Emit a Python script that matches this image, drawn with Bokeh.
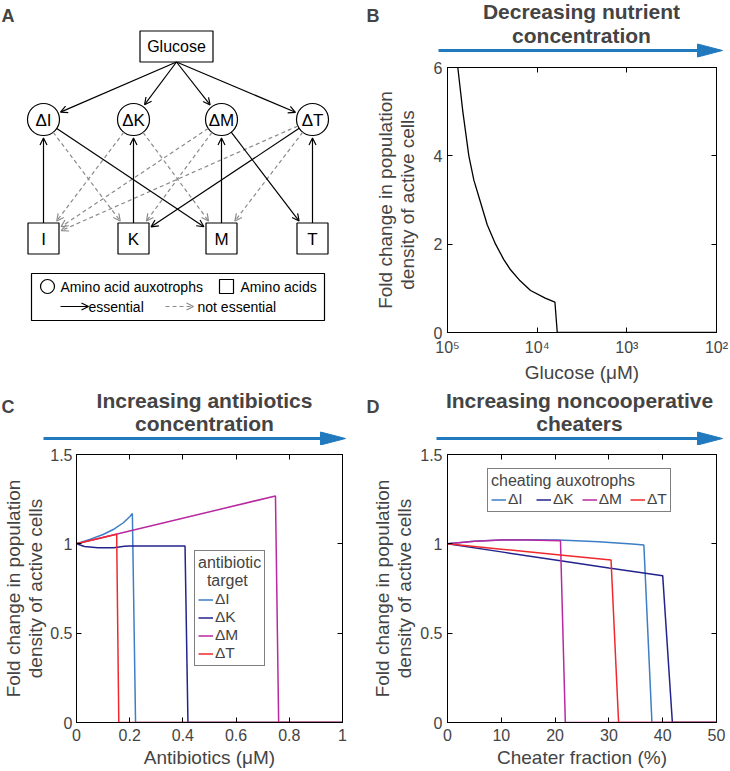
import math
from bokeh.plotting import figure
from bokeh.models import (Range1d, LinearAxis, LogAxis, FixedTicker, CustomJSTickFormatter,
                          Arrow, OpenHead, Label, Legend, LegendItem, ColumnDataSource, PolyAnnotation)
from bokeh.layouts import row, column
from bokeh.embed import file_html
from bokeh.resources import INLINE
from bokeh.core.properties import value

FONT = "Liberation Sans"

# ---------------- data ----------------
# Panel B: nutrient limitation
glucose_uM = [76740, 67450, 57810, 50820, 42850, 36060, 29110, 23550, 19820, 15490, 11860, 8130, 6340, 5970, 100]
fold_glucose = [6.0, 5.0, 4.0, 3.45, 2.95, 2.44, 2.0, 1.65, 1.42, 1.17, 0.95, 0.78, 0.69, 0.0, 0.0]
glucose_ticks = [1e5, 1e4, 1e3, 1e2]
fold_ticks_B = [0, 2, 4, 6]

# Panel C: antibiotics
auxotrophs = ["ΔI", "ΔK", "ΔM", "ΔT"]
antibiotic_I_x = [0, 0.05, 0.10, 0.138, 0.176, 0.20, 0.21, 0.222, 1.0]
antibiotic_I_y = [1.0, 1.025, 1.052, 1.08, 1.118, 1.152, 1.17, 0.0, 0.0]
antibiotic_K_x = [0, 0.03, 0.08, 0.14, 0.18, 0.20, 0.408, 0.419, 1.0]
antibiotic_K_y = [1.0, 0.985, 0.978, 0.978, 0.986, 0.988, 0.988, 0.0, 0.0]
antibiotic_M_x = [0, 0.748, 0.76, 1.0]
antibiotic_M_y = [1.0, 1.268, 0.0, 0.0]
antibiotic_T_x = [0, 0.151, 0.159, 1.0]
antibiotic_T_y = [1.0, 1.054, 0.0, 0.0]
antibiotic_ticks = [0, 0.2, 0.4, 0.6, 0.8, 1]
fold_ticks_CD = [0, 0.5, 1, 1.5]

# Panel D: cheaters
cheater_I_x = [0, 5, 9.7, 15, 20.7, 28.1, 34.3, 36.5, 38.0, 50]
cheater_I_y = [1.0, 1.015, 1.022, 1.023, 1.021, 1.012, 0.999, 0.993, 0.0, 0.0]
cheater_K_x = [0, 10, 21, 30, 40.0, 41.8, 50]
cheater_K_y = [1.0, 0.955, 0.905, 0.865, 0.822, 0.0, 0.0]
cheater_M_x = [0, 5, 10, 15, 21.0, 21.9, 50]
cheater_M_y = [1.0, 1.015, 1.022, 1.022, 1.017, 0.0, 0.0]
cheater_T_x = [0, 10, 20, 30.4, 31.8, 50]
cheater_T_y = [1.0, 0.97, 0.94, 0.909, 0.0, 0.0]
cheater_ticks = [0, 10, 20, 30, 40, 50]

# Panel A: network
amino_acids = ["I", "K", "M", "T"]
essential_edges = [("Glucose", "ΔI"), ("Glucose", "ΔK"), ("Glucose", "ΔM"), ("Glucose", "ΔT"),
                   ("I", "ΔI"), ("K", "ΔK"), ("M", "ΔM"), ("T", "ΔT"),
                   ("ΔI", "M"), ("ΔM", "T"), ("ΔT", "K")]
nonessential_edges = [("ΔI", "K"), ("ΔK", "I"), ("ΔK", "M"), ("ΔM", "I"), ("ΔM", "K"),
                      ("ΔT", "I"), ("ΔT", "M")]

COLORS = ["#3d7ec4", "#23238e", "#b8289f", "#f0282d"]
ARROW_BLUE = "#2179be"
GRAY = "#8a8a8a"

COL_W = 365
TOP_H = 385
BOT_H = 386
HEAD_B_H = 58
HEAD_CD_H = 60


def blank(width, height):
    f = figure(width=width, height=height, x_range=Range1d(0, width), y_range=Range1d(height, 0),
               x_axis_location=None, y_axis_location=None, min_border=0,
               output_backend="svg", toolbar_location=None)
    f.grid.visible = False
    f.outline_line_color = None
    return f


def header(height, letter, letter_y, lines, title_x, title_ys, ax0, ax1, ay):
    # data units = pixels from the header's top-left corner
    h = blank(COL_W, height)
    h.add_layout(Label(x=1, y=letter_y, text=letter, text_font=FONT, text_font_size="18px",
                       text_font_style="bold", text_baseline="middle"))
    for t, y in zip(lines, title_ys):
        h.add_layout(Label(x=title_x, y=y, text=t, text_font=FONT, text_font_size="21px",
                           text_font_style="bold", text_align="center", text_baseline="middle"))
    head_len, head_half = 25, 6.5
    h.add_layout(Arrow(end=None, x_start=ax0, y_start=ay, x_end=ax1 - head_len + 2, y_end=ay,
                       line_color=ARROW_BLUE, line_width=3))
    h.add_layout(PolyAnnotation(xs=[ax1 - head_len, ax1, ax1 - head_len],
                                ys=[ay - head_half, ay, ay + head_half],
                                fill_color=ARROW_BLUE, fill_alpha=1, line_color=ARROW_BLUE, line_alpha=1))
    return h


def fmt():
    return CustomJSTickFormatter(code="return String(Math.round(tick*1000)/1000);")


def log_fmt():
    return CustomJSTickFormatter(code="""
const sup = {"0":"\u2070","1":"\u00b9","2":"\u00b2","3":"\u00b3","4":"\u2074","5":"\u2075","6":"\u2076","7":"\u2077","8":"\u2078","9":"\u2079","-":"\u207b"};
const e = Math.round(Math.log10(tick));
return "10" + String(e).split("").map(c => sup[c]).join("");
""")


def style_main_axis(ax, ticks, formatter, label, label_standoff, tick_standoff=5):
    ax.ticker = FixedTicker(ticks=ticks)
    ax.formatter = formatter
    ax.axis_label = label
    ax.axis_label_text_font = FONT
    ax.axis_label_text_font_size = "19px"
    ax.axis_label_text_font_style = "normal"
    ax.axis_label_text_line_height = 1.05
    ax.axis_label_standoff = label_standoff
    ax.major_label_text_font = FONT
    ax.major_label_text_font_size = "16px"
    ax.major_label_standoff = tick_standoff
    ax.major_tick_in = 5
    ax.major_tick_out = 0
    ax.minor_tick_line_color = None
    ax.axis_line_color = "black"
    ax.major_tick_line_color = "black"


def mirror_axis(p, cls, ticks, where):
    ax = cls(ticker=FixedTicker(ticks=ticks), major_label_text_font_size="1px",
             major_label_text_color=None, major_label_standoff=0,
             major_tick_in=5, major_tick_out=0, minor_tick_line_color=None, axis_line_color="black")
    p.add_layout(ax, where)


def main_plot(height, xr, yr, left, right, top, bottom, log=False):
    p = figure(width=COL_W, height=height, x_range=xr, y_range=yr, x_axis_type="log" if log else "linear",
               min_border_left=left, min_border_right=right, min_border_top=top, min_border_bottom=bottom,
               output_backend="svg", toolbar_location=None)
    p.grid.visible = False
    p.outline_line_color = "black"
    return p


YLABEL = "Fold change in population\ndensity of active cells"

# ---------------- Panel A ----------------
pA = blank(COL_W, TOP_H)
COL_X = [43, 133, 221, 312]
Y_GLU, Y_AUX, Y_ACID = 46, 119, 238
GLU_X, GLU_W, GLU_H = 176, 73, 31
R_C, H_S = 16, 15.5

nodes = {"Glucose": (GLU_X, Y_GLU, "rect", GLU_W / 2, GLU_H / 2)}
for i, n in enumerate(auxotrophs):
    nodes[n] = (COL_X[i], Y_AUX, "circle", R_C, R_C)
for i, n in enumerate(amino_acids):
    nodes[n] = (COL_X[i], Y_ACID, "square", H_S, H_S)


def boundary(name, toward, gap):
    x, y, shape, hx, hy = nodes[name]
    dx, dy = toward[0] - x, toward[1] - y
    L = math.hypot(dx, dy)
    ux, uy = dx / L, dy / L
    if shape == "circle":
        t = hx
    else:
        t = min(hx / abs(ux) if ux else 1e9, hy / abs(uy) if uy else 1e9)
    t += gap
    return x + ux * t, y + uy * t


def edge_source(edges):
    d = {"x0": [], "y0": [], "x1": [], "y1": []}
    for s, e in edges:
        if s == "Glucose":
            start = (GLU_X, Y_GLU + GLU_H / 2)
        else:
            start = boundary(s, nodes[e][:2], 0)
        end = boundary(e, start, 2.5)
        d["x0"].append(start[0]); d["y0"].append(start[1])
        d["x1"].append(end[0]); d["y1"].append(end[1])
    return ColumnDataSource(d)


pA.rect(x=[GLU_X], y=[Y_GLU], width=GLU_W, height=GLU_H, fill_color="white", line_color="black", line_width=1.2)
pA.scatter(x=COL_X, y=[Y_AUX] * 4, marker="circle", size=2 * R_C, fill_color="white", line_color="black", line_width=1.2)
pA.scatter(x=COL_X, y=[Y_ACID] * 4, marker="square", size=2 * H_S, fill_color="white", line_color="black", line_width=1.2)
pA.text(x=[GLU_X], y=[Y_GLU], text=["Glucose"], text_align="center", text_baseline="middle",
        text_font=value(FONT), text_font_size="16px")
pA.text(x=COL_X, y=[Y_AUX + 1] * 4, text=auxotrophs, text_align="center", text_baseline="middle",
        text_font=value(FONT), text_font_size="17px")
pA.text(x=COL_X, y=[Y_ACID + 1] * 4, text=amino_acids, text_align="center", text_baseline="middle",
        text_font=value(FONT), text_font_size="17px")

pA.add_layout(Arrow(end=OpenHead(size=7, line_color=GRAY, line_width=1.2), source=edge_source(nonessential_edges),
                    x_start="x0", y_start="y0", x_end="x1", y_end="y1",
                    line_color=GRAY, line_width=1.2, line_dash="4 3"))
pA.add_layout(Arrow(end=OpenHead(size=7, line_color="black", line_width=1.2), source=edge_source(essential_edges),
                    x_start="x0", y_start="y0", x_end="x1", y_end="y1",
                    line_color="black", line_width=1.2))

# key box
LB_L, LB_R, LB_T, LB_B = 31, 324, 273, 320
LR1, LR2 = 286, 306
pA.quad(left=[LB_L], right=[LB_R], top=[LB_T], bottom=[LB_B], fill_color="white", line_color="black", line_width=1.2)
pA.scatter(x=[47], y=[LR1], marker="circle", size=14, fill_color="white", line_color="black", line_width=1.2)
pA.scatter(x=[226], y=[LR1], marker="square", size=14, fill_color="white", line_color="black", line_width=1.2)
pA.text(x=[60, 240, 88, 197], y=[LR1, LR1, LR2, LR2],
        text=["Amino acid auxotrophs", "Amino acids", "essential", "not essential"],
        text_baseline="middle", text_font=value(FONT), text_font_size="14px")
pA.add_layout(Arrow(end=OpenHead(size=7, line_color="black", line_width=1.2), x_start=60, y_start=LR2,
                    x_end=88, y_end=LR2, line_color="black", line_width=1.2))
pA.add_layout(Arrow(end=OpenHead(size=7, line_color=GRAY, line_width=1.2), x_start=165, y_start=LR2,
                    x_end=193, y_end=LR2, line_color=GRAY, line_width=1.2, line_dash="4 3"))
pA.add_layout(Label(x=1, y=15.5, text="A", text_font=FONT, text_font_size="18px", text_font_style="bold",
                    text_baseline="middle"))

# ---------------- Panel B ----------------
hB = header(HEAD_B_H, "B", 15.5, ["Decreasing nutrient", "concentration"], 216, [10.5, 34.5], 73, 357, 50)
pB = main_plot(TOP_H - HEAD_B_H, Range1d(1e5, 1e2), Range1d(0, 6), 82, 14, 9, 50, log=True)
style_main_axis(pB.xaxis[0], glucose_ticks, log_fmt(), "Glucose (μM)", 3, 6)
style_main_axis(pB.yaxis[0], fold_ticks_B, fmt(), YLABEL, 13)
mirror_axis(pB, LogAxis, glucose_ticks, "above")
mirror_axis(pB, LinearAxis, fold_ticks_B, "right")
pB.line(glucose_uM, fold_glucose, line_color="black", line_width=1.3)

# ---------------- Panel C ----------------
hC = header(HEAD_CD_H, "C", 21.5, ["Increasing antibiotics", "concentration"], 204, [14.5, 37.5], 43, 345, 53)
pC = main_plot(BOT_H - HEAD_CD_H, Range1d(0, 1), Range1d(0, 1.5), 73, 23, 9, 49)
style_main_axis(pC.xaxis[0], antibiotic_ticks, fmt(), "Antibiotics (μM)", 3, 6)
style_main_axis(pC.yaxis[0], fold_ticks_CD, fmt(), YLABEL, 1, 4)
mirror_axis(pC, LinearAxis, antibiotic_ticks, "above")
mirror_axis(pC, LinearAxis, fold_ticks_CD, "right")
c_series = [(antibiotic_I_x, antibiotic_I_y), (antibiotic_K_x, antibiotic_K_y),
            (antibiotic_M_x, antibiotic_M_y), (antibiotic_T_x, antibiotic_T_y)]
c_r = [pC.line(xs, ys, line_color=c, line_width=1.5) for (xs, ys), c in zip(c_series, COLORS)]
legC = Legend(items=[LegendItem(label=n, renderers=[r]) for n, r in zip(auxotrophs, c_r)],
              location=(118, 56), title="antibiotic\n  target")

# ---------------- Panel D ----------------
hD = header(HEAD_CD_H, "D", 21.5, ["Increasing noncooperative", "cheaters"], 214, [14.5, 37.5], 71, 357, 53)
pD = main_plot(BOT_H - HEAD_CD_H, Range1d(0, 50), Range1d(0, 1.5), 82, 14, 9, 49)
style_main_axis(pD.xaxis[0], cheater_ticks, fmt(), "Cheater fraction (%)", 3, 6)
style_main_axis(pD.yaxis[0], fold_ticks_CD, fmt(), YLABEL, 2)
mirror_axis(pD, LinearAxis, cheater_ticks, "above")
mirror_axis(pD, LinearAxis, fold_ticks_CD, "right")
d_series = [(cheater_I_x, cheater_I_y), (cheater_K_x, cheater_K_y),
            (cheater_M_x, cheater_M_y), (cheater_T_x, cheater_T_y)]
d_r = [pD.line(xs, ys, line_color=c, line_width=1.5) for (xs, ys), c in zip(d_series, COLORS)]
legD = Legend(items=[LegendItem(label=n, renderers=[r]) for n, r in zip(auxotrophs, d_r)],
              location=(40, 210), orientation="horizontal", title="cheating auxotrophs")

for leg in (legC, legD):
    leg.label_text_font = FONT
    leg.label_text_font_size = "15.5px"
    leg.label_text_line_height = 0.9
    leg.title_text_font = FONT
    leg.title_text_font_size = "16px"
    leg.title_text_font_style = "normal"
    leg.title_text_line_height = 0.9
    leg.title_standoff = 0
    leg.label_height = 15
    leg.glyph_height = 15
    leg.glyph_width = 15
    leg.label_standoff = 2
    leg.padding = 3
    leg.margin = 0
    leg.spacing = 0
    leg.border_line_color = "black"
    leg.border_line_width = 1
    leg.background_fill_alpha = 1
legD.spacing = 8
pC.add_layout(legC)
pD.add_layout(legD)

layout = column(row(pA, column(row(hB), pB)),
                row(column(row(hC), pC), column(row(hD), pD)))
open("out.html", "w", encoding="utf-8").write(file_html(layout, INLINE))
